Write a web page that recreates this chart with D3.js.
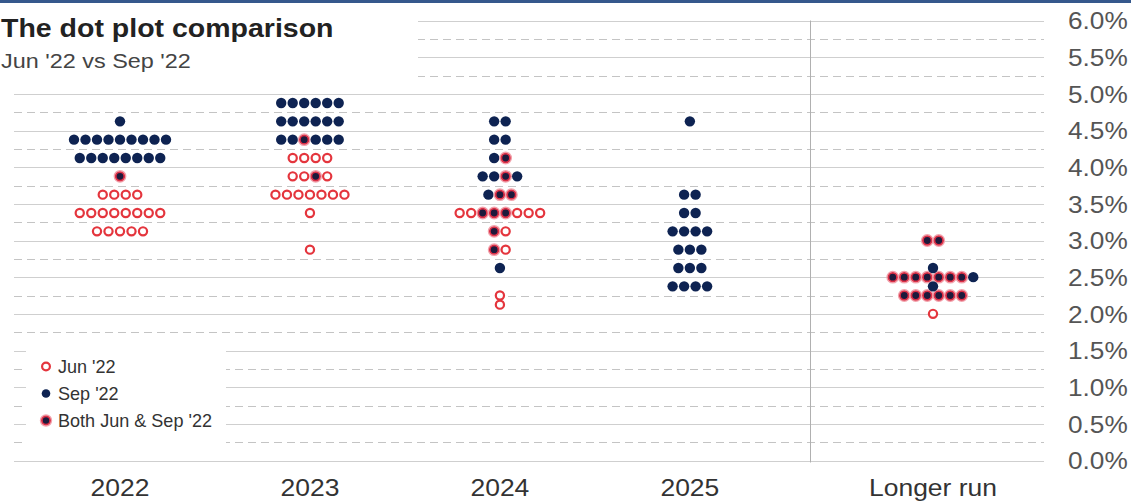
<!DOCTYPE html>
<html>
<head>
<meta charset="utf-8">
<script src="https://cdn.jsdelivr.net/npm/d3@7"></script>
<style>
  body { margin: 0; background: #fff; }
  svg { display: block; }
  text { font-family: "Liberation Sans", Arial, sans-serif; }
</style>
</head>
<body>
<script>
// categories on the x axis
var categories = ['2022', '2023', '2024', '2025', 'Longer run'];

// rate levels per category, and the dots in each row
// S = Sep '22 only, J = Jun '22 only, B = both
var rates2022 = [4.625, 4.375, 4.125, 3.875, 3.625, 3.375, 3.125];
var dots2022  = ['S', 'SSSSSSSSS', 'SSSSSSSS', 'B', 'JJJJ', 'JJJJJJJJ', 'JJJJJ'];

var rates2023 = [4.875, 4.625, 4.375, 4.125, 3.875, 3.625, 3.375, 2.875];
var dots2023  = ['SSSSSS', 'SSSSSS', 'SSBSSS', 'JJJJ', 'JJBJ', 'JJJJJJJ', 'J', 'J'];

var rates2024 = [4.625, 4.375, 4.125, 3.875, 3.625, 3.375, 3.125, 2.875, 2.625, 2.25, 2.125];
var dots2024  = ['SS', 'SS', 'SB', 'SSBS', 'SBB', 'JJBBBJJJ', 'BJ', 'BJ', 'S', 'J', 'J'];

var rates2025 = [4.625, 3.625, 3.375, 3.125, 2.875, 2.625, 2.375];
var dots2025  = ['S', 'SS', 'SS', 'SSSS', 'SSS', 'SSS', 'SSSS'];

var ratesLonger = [3.0, 2.5, 2.25, 2.625, 2.375, 2.0];
var dotsLonger  = ['BB', 'BBBBBBBS', 'BBBBBB', 'S', 'S', 'J'];

var yTicks = [0, 0.5, 1, 1.5, 2, 2.5, 3, 3.5, 4, 4.5, 5, 5.5, 6];
var legendKinds = ['J', 'S', 'B'];
var legendLabels = ["Jun '22", "Sep '22", "Both Jun & Sep '22"];

var width = 1131;
var height = 502;

var navy = '#0e2352';
var red = '#e4353d';

var svg = d3.select('body').append('svg')
    .attr('width', width)
    .attr('height', height);

// stretch text horizontally, the original is drawn wide
function stretch(sel, k) {
    sel.each(function() {
        var w = this.getComputedTextLength();
        d3.select(this).attr('textLength', w * k).attr('lengthAdjust', 'spacingAndGlyphs');
    });
}

var y = d3.scaleLinear()
    .domain([0, 6])
    .range([460.5, 20.5]);

// slot index -> x (the longer run sits after a gap)
var slot = {'2022': 0, '2023': 1, '2024': 2, '2025': 3, 'Longer run': 4.28};
var x = d3.scaleLinear()
    .domain([0, 4.28])
    .range([120, 933]);

var gridLeft = 14, gridRight = 1044;

// gridlines
var grid = svg.append('g');
grid.selectAll('line.solid')
    .data(yTicks)
    .enter().append('line')
    .attr('class', 'solid')
    .attr('x1', gridLeft).attr('x2', gridRight)
    .attr('y1', function(d) { return Math.round(y(d)) + 0.5; })
    .attr('y2', function(d) { return Math.round(y(d)) + 0.5; })
    .attr('stroke', '#cfcfcf')
    .attr('stroke-width', 1);

grid.selectAll('line.dash')
    .data(yTicks.slice(0, -1))
    .enter().append('line')
    .attr('class', 'dash')
    .attr('x1', gridLeft).attr('x2', gridRight)
    .attr('y1', function(d) { return Math.round(y(d + 0.25)) + 0.5; })
    .attr('y2', function(d) { return Math.round(y(d + 0.25)) + 0.5; })
    .attr('stroke', '#c4c4c4')
    .attr('stroke-width', 1)
    .attr('stroke-dasharray', '8,5');

// separator before longer run
var sepX = Math.round(x(3.63)) + 0.5;
svg.append('line')
    .attr('x1', sepX).attr('x2', sepX)
    .attr('y1', y(6)).attr('y2', y(0) + 2)
    .attr('stroke', '#b0b0b0')
    .attr('stroke-width', 1);

// y axis labels on the right
var yAxis = d3.axisRight(y)
    .tickValues(yTicks)
    .tickSize(0)
    .tickPadding(0)
    .tickFormat(function(d) { return d.toFixed(1) + '%'; });

var yAxisG = svg.append('g')
    .attr('transform', 'translate(1068,0)')
    .call(yAxis);
yAxisG.select('.domain').remove();
yAxisG.selectAll('text')
    .attr('fill', '#555')
    .style('font-size', '23px')
    .attr('dy', '0.36em');
stretch(yAxisG.selectAll('text'), 1.14);

// x labels
var xLabels = svg.append('g');
xLabels.selectAll('text')
    .data(categories)
    .enter().append('text')
    .attr('x', function(d) { return x(slot[d]); })
    .attr('y', 496)
    .attr('text-anchor', 'middle')
    .attr('fill', '#333')
    .style('font-size', '23px')
    .text(function(d) { return d; });
stretch(xLabels.selectAll('text'), 1.15);

// dots
var DOT_R = 5.2;
var DOT_STEP = 11.5;

function drawDot(g, kind, cx, cy, r) {
    if (kind === 'S') {
        g.append('circle').attr('cx', cx).attr('cy', cy).attr('r', r)
            .attr('fill', navy);
    } else if (kind === 'J') {
        g.append('circle').attr('cx', cx).attr('cy', cy).attr('r', r - 1.1)
            .attr('fill', '#fff').attr('stroke', red).attr('stroke-width', 2.2);
    } else {
        g.append('circle').attr('cx', cx).attr('cy', cy).attr('r', r + 0.6)
            .attr('fill', 'none').attr('stroke', '#f2a3ad').attr('stroke-width', 1.2);
        g.append('circle').attr('cx', cx).attr('cy', cy).attr('r', r - 0.9)
            .attr('fill', '#1d1a3c').attr('stroke', '#dc2f46').attr('stroke-width', 1.8);
    }
}

var table = [
    {cat: '2022', rates: rates2022, dots: dots2022},
    {cat: '2023', rates: rates2023, dots: dots2023},
    {cat: '2024', rates: rates2024, dots: dots2024},
    {cat: '2025', rates: rates2025, dots: dots2025},
    {cat: 'Longer run', rates: ratesLonger, dots: dotsLonger}
];

var dotsG = svg.append('g');
table.forEach(function(col) {
    var cx0 = x(slot[col.cat]);
    col.rates.forEach(function(rate, r) {
        var kinds = col.dots[r].split('');
        var n = kinds.length;
        kinds.forEach(function(kind, i) {
            drawDot(dotsG, kind, cx0 + (i - (n - 1) / 2) * DOT_STEP, y(rate), DOT_R);
        });
    });
});

// title box
svg.append('rect')
    .attr('x', 0).attr('y', 0)
    .attr('width', 418).attr('height', 86)
    .attr('fill', '#fff');

svg.append('rect')
    .attr('x', 0).attr('y', 0)
    .attr('width', width).attr('height', 3)
    .attr('fill', '#35588c');

var title = svg.append('text')
    .attr('x', 1).attr('y', 37)
    .attr('fill', '#222')
    .style('font-size', '25px')
    .style('font-weight', 'bold')
    .text('The dot plot comparison');
stretch(title, 1.14);

var subtitle = svg.append('text')
    .attr('x', 1).attr('y', 68)
    .attr('fill', '#444')
    .style('font-size', '20px')
    .text("Jun '22 vs Sep '22");
stretch(subtitle, 1.17);

// legend
svg.append('rect')
    .attr('x', 26).attr('y', 344)
    .attr('width', 200).attr('height', 105)
    .attr('fill', '#fff');

var legend = svg.append('g').attr('transform', 'translate(46,366.5)');
legendKinds.forEach(function(kind, i) {
    var row = legend.append('g').attr('transform', 'translate(0,' + (i * 27) + ')');
    drawDot(row, kind, 0, 0, kind === 'S' ? 4.3 : 5);
    var t = row.append('text')
        .attr('x', 12).attr('y', 0)
        .attr('dy', '0.36em')
        .attr('fill', '#333')
        .style('font-size', '19px')
        .text(legendLabels[i]);
    stretch(t, 0.95);
});
</script>
</body>
</html>
